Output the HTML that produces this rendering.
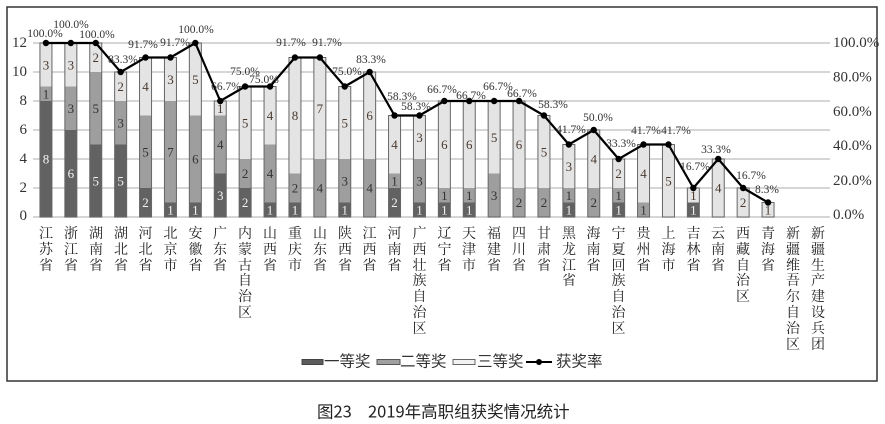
<!DOCTYPE html>
<html><head><meta charset="utf-8">
<style>
html,body{margin:0;padding:0;background:#fff;}
#w{position:relative;width:885px;height:424px;overflow:hidden;background:#fff;}
svg{position:absolute;left:0;top:0;}
.c{position:absolute;top:227px;width:16px;font-size:14px;line-height:15.8px;text-align:center;word-break:break-all;color:#222;font-family:"Liberation Serif","Noto Serif CJK SC",serif;}
</style></head>
<body><div id="w">
<svg width="885" height="424" viewBox="0 0 885 424" xmlns="http://www.w3.org/2000/svg">
<rect x="7" y="7" width="870" height="374" fill="none" stroke="#333" stroke-width="1.5"/>
<g stroke="#c8c8c8" stroke-width="1.5">
<line x1="33" y1="43" x2="830" y2="43"/><line x1="33" y1="72" x2="830" y2="72"/><line x1="33" y1="101" x2="830" y2="101"/><line x1="33" y1="130" x2="830" y2="130"/><line x1="33" y1="159" x2="830" y2="159"/><line x1="33" y1="188" x2="830" y2="188"/><line x1="33" y1="217" x2="830" y2="217"/>
</g>
<g font-family="Liberation Serif,serif" font-size="15" fill="#333" text-anchor="end" dominant-baseline="central">
<text x="27" y="43">12</text><text x="27" y="72">10</text><text x="27" y="101">8</text><text x="27" y="130">6</text><text x="27" y="159">4</text><text x="27" y="188">2</text><text x="27" y="216">0</text>
</g>
<g font-family="Liberation Serif,serif" font-size="15" fill="#333" dominant-baseline="central">
<text x="833" y="43">100.0%</text><text x="833" y="77.5">80.0%</text><text x="833" y="112">60.0%</text><text x="833" y="146">40.0%</text><text x="833" y="181">20.0%</text><text x="833" y="215">0.0%</text>
</g>
<!-- bars -->
<g>
<!-- dark -->
<g fill="#626262">
<rect x="39.95" y="101" width="12" height="116"/>
<rect x="64.85" y="130" width="12" height="87"/>
<rect x="89.75" y="144.5" width="12" height="72.5"/>
<rect x="114.65" y="144.5" width="12" height="72.5"/>
<rect x="139.55" y="188" width="12" height="29"/>
<rect x="164.45" y="202.5" width="12" height="14.5"/>
<rect x="189.35" y="202.5" width="12" height="14.5"/>
<rect x="214.25" y="173.5" width="12" height="43.5"/>
<rect x="239.15" y="188" width="12" height="29"/>
<rect x="264.05" y="202.5" width="12" height="14.5"/>
<rect x="288.95" y="202.5" width="12" height="14.5"/>
<rect x="338.75" y="202.5" width="12" height="14.5"/>
<rect x="388.55" y="188" width="12" height="29"/>
<rect x="413.45" y="202.5" width="12" height="14.5"/>
<rect x="438.35" y="202.5" width="12" height="14.5"/>
<rect x="463.25" y="202.5" width="12" height="14.5"/>
<rect x="562.85" y="202.5" width="12" height="14.5"/>
<rect x="612.65" y="202.5" width="12" height="14.5"/>
<rect x="687.35" y="202.5" width="12" height="14.5"/>
</g>
<!-- mid -->
<g fill="#9e9e9e">
<rect x="39.95" y="86.5" width="12" height="14.5"/>
<rect x="64.85" y="86.5" width="12" height="43.5"/>
<rect x="89.75" y="72" width="12" height="72.5"/>
<rect x="114.65" y="101" width="12" height="43.5"/>
<rect x="139.55" y="115.5" width="12" height="72.5"/>
<rect x="164.45" y="101" width="12" height="101.5"/>
<rect x="189.35" y="115.5" width="12" height="87"/>
<rect x="214.25" y="115.5" width="12" height="58"/>
<rect x="239.15" y="159" width="12" height="29"/>
<rect x="264.05" y="144.5" width="12" height="58"/>
<rect x="288.95" y="173.5" width="12" height="29"/>
<rect x="313.85" y="159" width="12" height="58"/>
<rect x="338.75" y="159" width="12" height="43.5"/>
<rect x="363.65" y="159" width="12" height="58"/>
<rect x="388.55" y="173.5" width="12" height="14.5"/>
<rect x="413.45" y="159" width="12" height="43.5"/>
<rect x="438.35" y="188" width="12" height="14.5"/>
<rect x="463.25" y="188" width="12" height="14.5"/>
<rect x="488.15" y="173.5" width="12" height="43.5"/>
<rect x="513.05" y="188" width="12" height="29"/>
<rect x="537.95" y="188" width="12" height="29"/>
<rect x="562.85" y="188" width="12" height="14.5"/>
<rect x="587.75" y="188" width="12" height="29"/>
<rect x="612.65" y="188" width="12" height="14.5"/>
<rect x="637.55" y="202.5" width="12" height="14.5"/>
</g>
<!-- light -->
<g fill="#e4e4e4">
<rect x="39.95" y="43" width="12" height="43.5"/>
<rect x="64.85" y="43" width="12" height="43.5"/>
<rect x="89.75" y="43" width="12" height="29"/>
<rect x="114.65" y="72" width="12" height="29"/>
<rect x="139.55" y="57.5" width="12" height="58"/>
<rect x="164.45" y="57.5" width="12" height="43.5"/>
<rect x="189.35" y="43" width="12" height="72.5"/>
<rect x="214.25" y="101" width="12" height="14.5"/>
<rect x="239.15" y="86.5" width="12" height="72.5"/>
<rect x="264.05" y="86.5" width="12" height="58"/>
<rect x="288.95" y="57.5" width="12" height="116"/>
<rect x="313.85" y="57.5" width="12" height="101.5"/>
<rect x="338.75" y="86.5" width="12" height="72.5"/>
<rect x="363.65" y="72" width="12" height="87"/>
<rect x="388.55" y="115.5" width="12" height="58"/>
<rect x="413.45" y="115.5" width="12" height="43.5"/>
<rect x="438.35" y="101" width="12" height="87"/>
<rect x="463.25" y="101" width="12" height="87"/>
<rect x="488.15" y="101" width="12" height="72.5"/>
<rect x="513.05" y="101" width="12" height="87"/>
<rect x="537.95" y="115.5" width="12" height="72.5"/>
<rect x="562.85" y="144.5" width="12" height="43.5"/>
<rect x="587.75" y="130" width="12" height="58"/>
<rect x="612.65" y="159" width="12" height="29"/>
<rect x="637.55" y="144.5" width="12" height="58"/>
<rect x="662.45" y="144.5" width="12" height="72.5"/>
<rect x="687.35" y="188" width="12" height="14.5"/>
<rect x="712.25" y="159" width="12" height="58"/>
<rect x="737.15" y="188" width="12" height="29"/>
<rect x="762.05" y="202.5" width="12" height="14.5"/>
</g>
<!-- outlines -->
<g fill="none" stroke="#666" stroke-width="1">
<rect x="39.95" y="43" width="12" height="174"/>
<rect x="64.85" y="43" width="12" height="174"/>
<rect x="89.75" y="43" width="12" height="174"/>
<rect x="114.65" y="72" width="12" height="145"/>
<rect x="139.55" y="57.5" width="12" height="159.5"/>
<rect x="164.45" y="57.5" width="12" height="159.5"/>
<rect x="189.35" y="43" width="12" height="174"/>
<rect x="214.25" y="101" width="12" height="116"/>
<rect x="239.15" y="86.5" width="12" height="130.5"/>
<rect x="264.05" y="86.5" width="12" height="130.5"/>
<rect x="288.95" y="57.5" width="12" height="159.5"/>
<rect x="313.85" y="57.5" width="12" height="159.5"/>
<rect x="338.75" y="86.5" width="12" height="130.5"/>
<rect x="363.65" y="72" width="12" height="145"/>
<rect x="388.55" y="115.5" width="12" height="101.5"/>
<rect x="413.45" y="115.5" width="12" height="101.5"/>
<rect x="438.35" y="101" width="12" height="116"/>
<rect x="463.25" y="101" width="12" height="116"/>
<rect x="488.15" y="101" width="12" height="116"/>
<rect x="513.05" y="101" width="12" height="116"/>
<rect x="537.95" y="115.5" width="12" height="101.5"/>
<rect x="562.85" y="144.5" width="12" height="72.5"/>
<rect x="587.75" y="130" width="12" height="87"/>
<rect x="612.65" y="159" width="12" height="58"/>
<rect x="637.55" y="144.5" width="12" height="72.5"/>
<rect x="662.45" y="144.5" width="12" height="72.5"/>
<rect x="687.35" y="188" width="12" height="29"/>
<rect x="712.25" y="159" width="12" height="58"/>
<rect x="737.15" y="188" width="12" height="29"/>
<rect x="762.05" y="202.5" width="12" height="14.5"/>
</g>
</g>
<!-- segment labels -->
<g font-family="Liberation Serif,serif" font-size="13" text-anchor="middle" dominant-baseline="central">
<g fill="#f4f4f4">
<text x="45.95" y="159">8</text>
<text x="70.85" y="173.5">6</text>
<text x="95.75" y="180.75">5</text>
<text x="120.65" y="180.75">5</text>
<text x="145.55" y="202.5">2</text>
<text x="170.45" y="209.75">1</text>
<text x="195.35" y="209.75">1</text>
<text x="220.25" y="195.25">3</text>
<text x="245.15" y="202.5">2</text>
<text x="270.05" y="209.75">1</text>
<text x="294.95" y="209.75">1</text>
<text x="344.75" y="209.75">1</text>
<text x="394.55" y="202.5">2</text>
<text x="419.45" y="209.75">1</text>
<text x="444.35" y="209.75">1</text>
<text x="469.25" y="209.75">1</text>
<text x="568.85" y="209.75">1</text>
<text x="618.65" y="209.75">1</text>
<text x="693.35" y="209.75">1</text>
</g>
<g fill="#333">
<text x="45.95" y="93.75">1</text>
<text x="70.85" y="108.25">3</text>
<text x="95.75" y="108.25">5</text>
<text x="120.65" y="122.75">3</text>
<text x="145.55" y="151.75">5</text>
<text x="170.45" y="151.75">7</text>
<text x="195.35" y="159">6</text>
<text x="220.25" y="144.5">4</text>
<text x="245.15" y="173.5">2</text>
<text x="270.05" y="173.5">4</text>
<text x="294.95" y="188">2</text>
<text x="319.85" y="188">4</text>
<text x="344.75" y="180.75">3</text>
<text x="369.65" y="188">4</text>
<text x="394.55" y="180.75">1</text>
<text x="419.45" y="180.75">3</text>
<text x="444.35" y="195.25">1</text>
<text x="469.25" y="195.25">1</text>
<text x="494.15" y="195.25">3</text>
<text x="519.05" y="202.5">2</text>
<text x="543.95" y="202.5">2</text>
<text x="568.85" y="195.25">1</text>
<text x="593.75" y="202.5">2</text>
<text x="618.65" y="195.25">1</text>
<text x="643.55" y="209.75">1</text>
</g>
<g fill="#4a3a30">
<text x="45.95" y="64.75">3</text>
<text x="70.85" y="64.75">3</text>
<text x="95.75" y="57.5">2</text>
<text x="120.65" y="86.5">2</text>
<text x="145.55" y="86.5">4</text>
<text x="170.45" y="79.25">3</text>
<text x="195.35" y="79.25">5</text>
<text x="220.25" y="108.25">1</text>
<text x="245.15" y="122.75">5</text>
<text x="270.05" y="115.5">4</text>
<text x="294.95" y="115.5">8</text>
<text x="319.85" y="108.25">7</text>
<text x="344.75" y="122.75">5</text>
<text x="369.65" y="115.5">6</text>
<text x="394.55" y="144.5">4</text>
<text x="419.45" y="137.25">3</text>
<text x="444.35" y="144.5">6</text>
<text x="469.25" y="144.5">6</text>
<text x="494.15" y="137.25">5</text>
<text x="519.05" y="144.5">6</text>
<text x="543.95" y="151.75">5</text>
<text x="568.85" y="166.25">3</text>
<text x="593.75" y="159">4</text>
<text x="618.65" y="173.5">2</text>
<text x="643.55" y="173.5">4</text>
<text x="668.45" y="180.75">5</text>
<text x="693.35" y="195.25">1</text>
<text x="718.25" y="188">4</text>
<text x="743.15" y="202.5">2</text>
<text x="768.05" y="209.75">1</text>
</g>
</g>
<!-- line -->
<polyline fill="none" stroke="#000" stroke-width="2.2" stroke-linejoin="round" points="45.95,43 70.85,43 95.75,43 120.65,72 145.55,57.5 170.45,57.5 195.35,43 220.25,101 245.15,86.5 270.05,86.5 294.95,57.5 319.85,57.5 344.75,86.5 369.65,72 394.55,115.5 419.45,115.5 444.35,101 469.25,101 494.15,101 519.05,101 543.95,115.5 568.85,144.5 593.75,130 618.65,159 643.55,144.5 668.45,144.5 693.35,188 718.25,159 743.15,188 768.05,202.5"/>
<g fill="#000">
<circle cx="45.95" cy="43" r="3.2"/><circle cx="70.85" cy="43" r="3.2"/><circle cx="95.75" cy="43" r="3.2"/><circle cx="120.65" cy="72" r="3.2"/><circle cx="145.55" cy="57.5" r="3.2"/><circle cx="170.45" cy="57.5" r="3.2"/><circle cx="195.35" cy="43" r="3.2"/><circle cx="220.25" cy="101" r="3.2"/><circle cx="245.15" cy="86.5" r="3.2"/><circle cx="270.05" cy="86.5" r="3.2"/><circle cx="294.95" cy="57.5" r="3.2"/><circle cx="319.85" cy="57.5" r="3.2"/><circle cx="344.75" cy="86.5" r="3.2"/><circle cx="369.65" cy="72" r="3.2"/><circle cx="394.55" cy="115.5" r="3.2"/><circle cx="419.45" cy="115.5" r="3.2"/><circle cx="444.35" cy="101" r="3.2"/><circle cx="469.25" cy="101" r="3.2"/><circle cx="494.15" cy="101" r="3.2"/><circle cx="519.05" cy="101" r="3.2"/><circle cx="543.95" cy="115.5" r="3.2"/><circle cx="568.85" cy="144.5" r="3.2"/><circle cx="593.75" cy="130" r="3.2"/><circle cx="618.65" cy="159" r="3.2"/><circle cx="643.55" cy="144.5" r="3.2"/><circle cx="668.45" cy="144.5" r="3.2"/><circle cx="693.35" cy="188" r="3.2"/><circle cx="718.25" cy="159" r="3.2"/><circle cx="743.15" cy="188" r="3.2"/><circle cx="768.05" cy="202.5" r="3.2"/>
</g>
<!-- percent labels -->
<g font-family="Liberation Serif,serif" font-size="11.5" fill="#333" text-anchor="middle" dominant-baseline="central">
<text x="45" y="34">100.0%</text>
<text x="71" y="25">100.0%</text>
<text x="97" y="35">100.0%</text>
<text x="123" y="60">83.3%</text>
<text x="143" y="45">91.7%</text>
<text x="175" y="43">91.7%</text>
<text x="196" y="30">100.0%</text>
<text x="226" y="87">66.7%</text>
<text x="245" y="72">75.0%</text>
<text x="264" y="80">75.0%</text>
<text x="291" y="43">91.7%</text>
<text x="327" y="43">91.7%</text>
<text x="347" y="72">75.0%</text>
<text x="371" y="60">83.3%</text>
<text x="402" y="97">58.3%</text>
<text x="416" y="107">58.3%</text>
<text x="442" y="90">66.7%</text>
<text x="471" y="96">66.7%</text>
<text x="498" y="87">66.7%</text>
<text x="522" y="94">66.7%</text>
<text x="553" y="105">58.3%</text>
<text x="571" y="130">41.7%</text>
<text x="598" y="118">50.0%</text>
<text x="621" y="144">33.3%</text>
<text x="646" y="131">41.7%</text>
<text x="676" y="131">41.7%</text>
<text x="695" y="167">16.7%</text>
<text x="716" y="150">33.3%</text>
<text x="751" y="176">16.7%</text>
<text x="767" y="190">8.3%</text>
</g>
<!-- legend -->
<rect x="302" y="359.5" width="21" height="5" fill="#5c5c5c" stroke="#444" stroke-width="1"/>
<rect x="377" y="359.5" width="23" height="5" fill="#a0a0a0" stroke="#555" stroke-width="1"/>
<rect x="453" y="359.5" width="22" height="5" fill="#f2f2f2" stroke="#666" stroke-width="1"/>
<line x1="526" y1="362" x2="552" y2="362" stroke="#000" stroke-width="2"/>
<circle cx="539" cy="362" r="3" fill="#000"/>
<g font-family="Liberation Sans,Noto Sans CJK SC,sans-serif" font-size="15.5" fill="#333" dominant-baseline="central">
<text x="324" y="362">一等奖</text>
<text x="400" y="362">二等奖</text>
<text x="477" y="362">三等奖</text>
<text x="556" y="362">获奖率</text>
</g>
<!-- caption -->
<g font-family="Noto Sans CJK SC,sans-serif" font-size="16.5" fill="#222" dominant-baseline="central">
<text x="317" y="410.5">图23</text>
<text x="368" y="410.5">2019年高职组获奖情况统计</text>
</g>
</svg>
<div class="c" style="left:38px">江苏省</div>
<div class="c" style="left:63px">浙江省</div>
<div class="c" style="left:88px">湖南省</div>
<div class="c" style="left:113px">湖北省</div>
<div class="c" style="left:137.5px">河北省</div>
<div class="c" style="left:162.5px">北京市</div>
<div class="c" style="left:187.5px">安徽省</div>
<div class="c" style="left:212px">广东省</div>
<div class="c" style="left:237px">内蒙古自治区</div>
<div class="c" style="left:262px">山西省</div>
<div class="c" style="left:287px">重庆市</div>
<div class="c" style="left:312px">山东省</div>
<div class="c" style="left:337px">陕西省</div>
<div class="c" style="left:361.5px">江西省</div>
<div class="c" style="left:386.5px">河南省</div>
<div class="c" style="left:411.5px">广西壮族自治区</div>
<div class="c" style="left:436.5px">辽宁省</div>
<div class="c" style="left:461px">天津市</div>
<div class="c" style="left:486px">福建省</div>
<div class="c" style="left:511px">四川省</div>
<div class="c" style="left:536px">甘肃省</div>
<div class="c" style="left:561px">黑龙江省</div>
<div class="c" style="left:585.5px">海南省</div>
<div class="c" style="left:610.5px">宁夏回族自治区</div>
<div class="c" style="left:635.5px">贵州省</div>
<div class="c" style="left:660.5px">上海市</div>
<div class="c" style="left:685.5px">吉林省</div>
<div class="c" style="left:710px">云南省</div>
<div class="c" style="left:735px">西藏自治区</div>
<div class="c" style="left:760px">青海省</div>
<div class="c" style="left:785px">新疆维吾尔自治区</div>
<div class="c" style="left:810px">新疆生产建设兵团</div>
</div></body></html>
